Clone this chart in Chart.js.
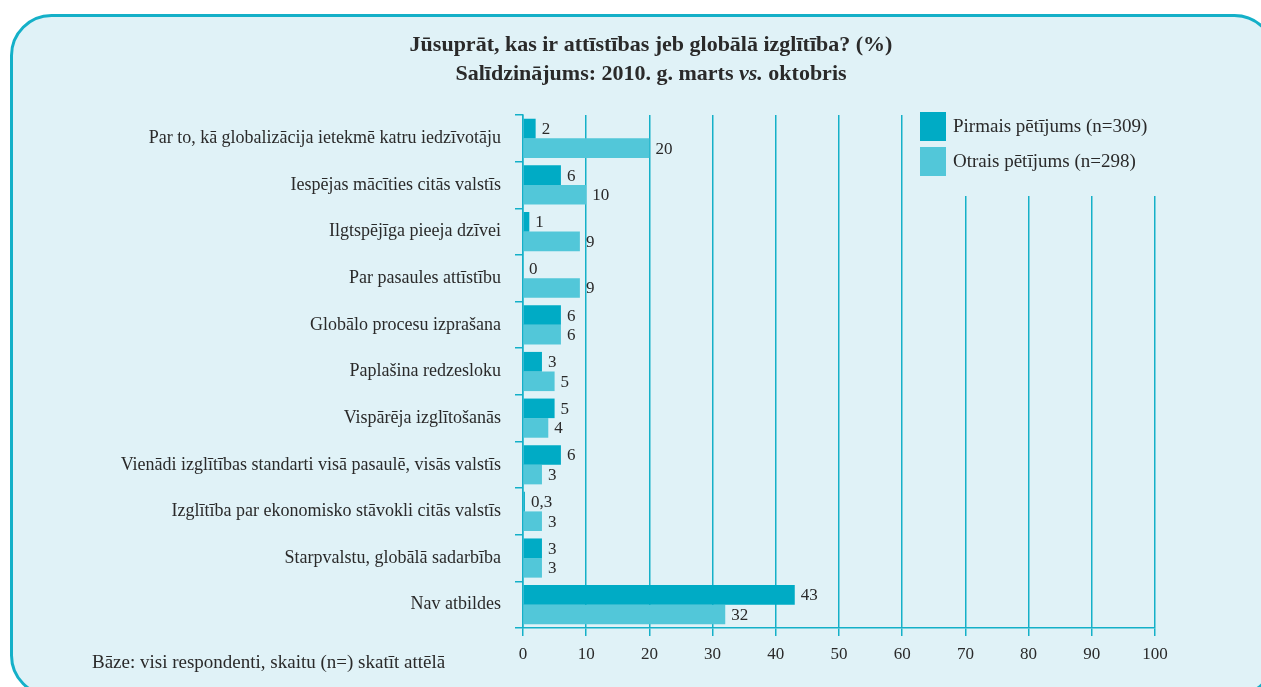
<!DOCTYPE html>
<html lang="lv">
<head>
<meta charset="utf-8">
<title>Attīstības izglītība</title>
<script src="https://cdn.jsdelivr.net/npm/chart.js@4.4.0/dist/chart.umd.min.js"></script>
<style>
  html, body { margin: 0; padding: 0; background: #ffffff; }
  #wrap { width: 1261px; height: 687px; position: relative; }
</style>
</head>
<body>
<div id="wrap"><canvas id="chartCanvas"></canvas></div>
<script>
// Dati
const categories = [
    "Par to, kā globalizācija ietekmē katru iedzīvotāju",
    "Iespējas mācīties citās valstīs",
    "Ilgtspējīga pieeja dzīvei",
    "Par pasaules attīstību",
    "Globālo procesu izprašana",
    "Paplašina redzesloku",
    "Vispārēja izglītošanās",
    "Vienādi izglītības standarti visā pasaulē, visās valstīs",
    "Izglītība par ekonomisko stāvokli citās valstīs",
    "Starpvalstu, globālā sadarbība",
    "Nav atbildes"
];
const pirmais = [2, 6, 1, 0, 6, 3, 5, 6, 0.3, 3, 43];
const otrais = [20, 10, 9, 9, 6, 5, 4, 3, 3, 3, 32];
const seriesNames = ["Pirmais pētījums (n=309)", "Otrais pētījums (n=298)"];
const xTicks = [0, 10, 20, 30, 40, 50, 60, 70, 80, 90, 100];

const titleLines = [
    "Jūsuprāt, kas ir attīstības jeb globālā izglītība? (%)",
    "Salīdzinājums: 2010. g. marts vs. oktobris"
];
const footnote = "Bāze: visi respondenti, skaitu (n=) skatīt attēlā";

const DARK = "#00abc5";
const LIGHT = "#52c7d9";
const PANEL = "#e0f2f7";
const LINE = "#14b0c8";
const TEXT = "#2a2a2a";
const SERIF = "'Liberation Serif', 'DejaVu Serif', serif";

// Fons ar noapaļotiem stūriem
const panelPlugin = {
    id: 'panel',
    beforeDraw(chart) {
        const ctx = chart.ctx;
        ctx.save();
        ctx.fillStyle = '#ffffff';
        ctx.fillRect(0, 0, chart.width, chart.height);
        ctx.beginPath();
        ctx.roundRect(11.5, 15.5, 1263, 680, 40);
        ctx.fillStyle = PANEL;
        ctx.fill();
        ctx.lineWidth = 3;
        ctx.strokeStyle = LINE;
        ctx.stroke();
        ctx.restore();
    }
};

// Virsraksts, leģenda un piezīme
const textPlugin = {
    id: 'texts',
    afterDraw(chart) {
        const ctx = chart.ctx;
        ctx.save();
        ctx.fillStyle = TEXT;
        ctx.textAlign = 'center';
        ctx.textBaseline = 'alphabetic';
        ctx.font = "bold 22px " + SERIF;
        ctx.fillText(titleLines[0], 651, 51);
        // otrā rinda ar slīprakstu "vs."
        const parts = ["Salīdzinājums: 2010. g. marts ", "vs.", " oktobris"];
        const fonts = ["bold 22px " + SERIF, "bold italic 22px " + SERIF, "bold 22px " + SERIF];
        let total = 0;
        parts.forEach((p, i) => { ctx.font = fonts[i]; total += ctx.measureText(p).width; });
        let x = 651 - total / 2;
        ctx.textAlign = 'left';
        parts.forEach((p, i) => {
            ctx.font = fonts[i];
            ctx.fillText(p, x, 80);
            x += ctx.measureText(p).width;
        });

        // leģenda
        ctx.fillStyle = PANEL;
        ctx.fillRect(905, 108, 270, 88);
        const ds = chart.data.datasets;
        ds.forEach((d, i) => {
            const y = 112 + i * 35;
            ctx.fillStyle = d.backgroundColor;
            ctx.fillRect(920, y, 26, 29);
            ctx.fillStyle = TEXT;
            ctx.font = "19px " + SERIF;
            ctx.textBaseline = 'middle';
            ctx.fillText(d.label, 953, y + 15);
        });

        ctx.textBaseline = 'alphabetic';
        ctx.font = "19px " + SERIF;
        ctx.fillText(footnote, 92, 668);
        ctx.restore();
    }
};

// Vērtības pie stabiņiem
const valuePlugin = {
    id: 'values',
    afterDatasetsDraw(chart) {
        const ctx = chart.ctx;
        ctx.save();
        ctx.fillStyle = TEXT;
        ctx.font = "17px " + SERIF;
        ctx.textAlign = 'left';
        ctx.textBaseline = 'middle';
        chart.data.datasets.forEach((d, di) => {
            chart.getDatasetMeta(di).data.forEach((bar, i) => {
                const v = d.data[i];
                ctx.fillText(String(v).replace('.', ','), bar.x + 6, bar.y + 1);
            });
        });
        ctx.restore();
    }
};

const ctx = document.getElementById('chartCanvas').getContext('2d');
const chart = new Chart(ctx, {
    type: 'bar',
    data: {
        labels: categories,
        datasets: [{
            label: seriesNames[0],
            data: pirmais,
            backgroundColor: DARK,
            categoryPercentage: 0.84,
            barPercentage: 1.0
        }, {
            label: seriesNames[1],
            data: otrais,
            backgroundColor: LIGHT,
            categoryPercentage: 0.84,
            barPercentage: 1.0
        }]
    },
    options: {
        indexAxis: 'y',
        responsive: true,
        maintainAspectRatio: false,
        animation: false,
        layout: { padding: { top: 115, right: 106, left: 0, bottom: 0 } },
        plugins: {
            legend: { display: false },
            title: { display: false },
            tooltip: { enabled: false }
        },
        scales: {
            x: {
                min: 0,
                max: 100,
                afterBuildTicks(scale) {
                    scale.ticks = xTicks.map(v => ({ value: v }));
                },
                afterFit(scale) { scale.height = 59; },
                grid: {
                    color: LINE,
                    lineWidth: 1.5,
                    tickLength: 8
                },
                border: { display: true, color: LINE, width: 1.5 },
                ticks: {
                    color: TEXT,
                    font: { family: SERIF, size: 17 },
                    padding: 8
                }
            },
            y: {
                afterFit(scale) { scale.width = 523; },
                grid: {
                    drawOnChartArea: false,
                    color: LINE,
                    lineWidth: 1.5,
                    tickLength: 8
                },
                border: { display: true, color: LINE, width: 1.5 },
                ticks: {
                    color: TEXT,
                    font: { family: SERIF, size: 18 },
                    padding: 14
                }
            }
        }
    },
    plugins: [panelPlugin, valuePlugin, textPlugin]
});
</script>
</body>
</html>
